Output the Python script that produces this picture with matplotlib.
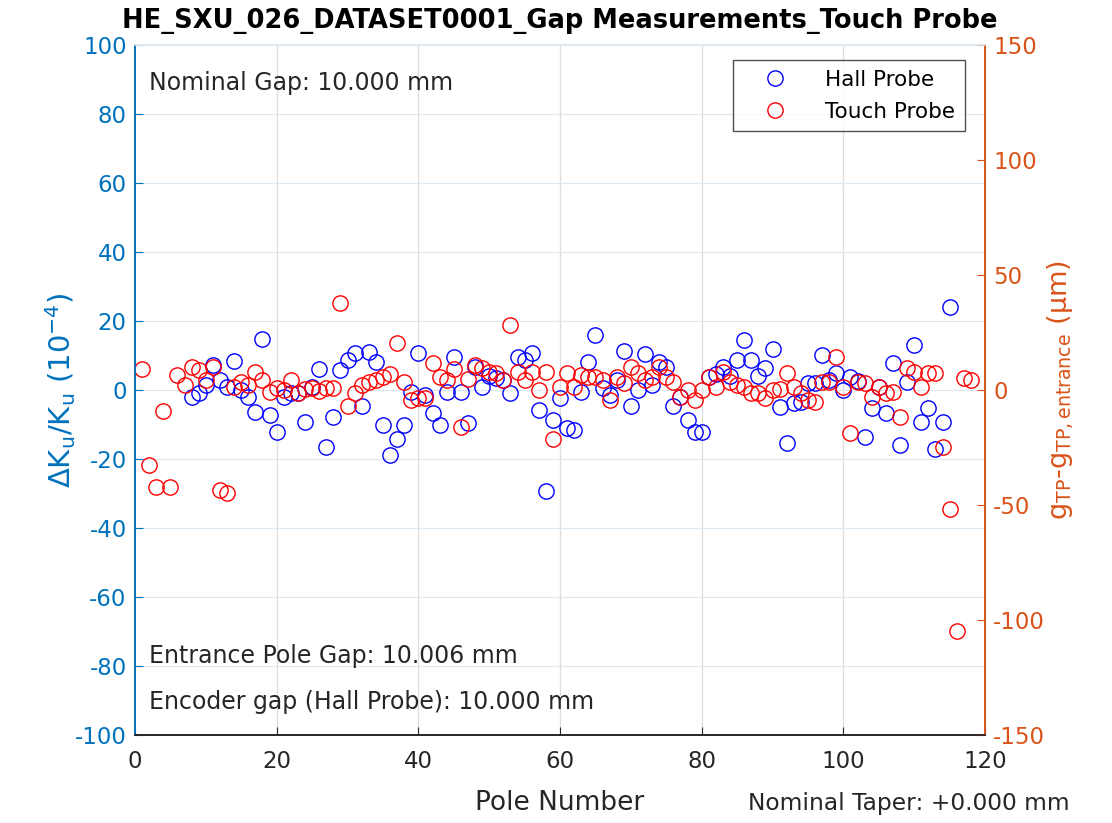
import matplotlib.pyplot as plt
import numpy as np

plt.rcParams['font.family'] = ['DejaVu Sans']
plt.rcParams['axes.unicode_minus'] = False
plt.rcParams['mathtext.fontset'] = 'dejavusans'

# Hall probe: delta K / K (1e-4) per pole, poles 8..115
hall_poles = list(range(8, 116))
hall_dk = [-2.1, -1.0, 1.5, 7.2, 2.9, 1.0, 8.4, 0.0, -1.9, -6.3,
           14.7, -7.2, -12.1, -1.9, -1.0, -1.0, -9.2, 1.0, 6.0, -16.4,
           -7.7, 5.8, 8.7, 10.6, -4.6, 11.1, 8.2, -10.1, -18.8, -14.3,
           -10.1, -0.5, 10.8, -1.4, -6.8, -10.1, -0.5, 9.7, -0.5, -9.7,
           6.8, 1.0, 4.0, 3.4, 2.9, -1.0, 9.7, 8.7, 10.8, -5.8,
           -29.3, -8.7, -2.4, -11.1, -11.6, -0.5, 8.2, 15.9, 0.5, -1.4,
           3.0, 11.3, -4.6, 0.0, 10.4, 1.5, 8.2, 6.8, -4.6, -1.9,
           -8.7, -12.1, -12.1, 3.9, 4.5, 6.8, 4.0, 8.7, 14.5, 8.7,
           4.0, 6.3, 11.8, -4.8, -15.5, -3.9, -3.4, 1.9, 1.9, 10.1,
           3.0, 4.8, 0.0, 3.9, 2.5, -13.5, -5.3, 1.0, -6.8, 7.7,
           -15.9, 2.4, 13.0, -9.2, -5.3, -17.2, -9.2, 24.1]

# Touch probe: gap relative to entrance pole (um), poles 1..118
touch_poles = list(range(1, 119))
touch_dg = [9.0, -32.7, -42.3, -9.1, -42.3, 6.5, 2.2, 10.1, 8.7, 4.3,
            9.9, -43.5, -44.9, 1.4, 3.6, 2.2, 8.0, 4.3, -0.7, 0.7,
            0.2, 4.3, -1.3, 0.5, 0.7, -0.5, 0.7, 1.0, 38.0, -7.0,
            -1.4, 2.2, 3.6, 4.3, 5.8, 7.0, 20.6, 3.6, -4.3, -3.6,
            -3.6, 11.6, 5.8, 4.3, 9.0, -16.0, 5.0, 10.9, 9.4, 8.0,
            7.2, 4.3, 28.3, 8.0, 4.3, 8.0, 0.0, 8.0, -21.5, 1.4,
            7.2, 1.4, 6.5, 5.8, 5.8, 4.3, -4.3, 5.8, 2.9, 10.1,
            7.2, 4.3, 5.8, 10.1, 5.8, 3.6, -2.9, 0.0, -4.3, 0.0,
            5.8, 1.4, 8.0, 3.6, 2.2, 1.4, -1.4, -1.4, -3.6, 0.0,
            0.5, 7.5, 1.4, -1.4, -4.3, -5.1, 3.6, 3.6, 14.2, 1.4,
            -18.8, 3.6, 2.9, -2.9, 1.4, -1.4, -0.7, -11.9, 9.4, 8.0,
            1.4, 7.2, 7.5, -24.6, -51.9, -104.8, 5.1, 4.3]

blue_ax = '#0072BD'
orange_ax = '#D95319'
dark = '#262626'

fig = plt.figure(figsize=(11.12, 8.23), dpi=100)
ax = fig.add_axes([0.1214, 0.1069, 0.7644, 0.8384])
ax2 = ax.twinx()

h1, = ax.plot(hall_poles, hall_dk, 'o', mfc='none', mec='b', ms=11, mew=1.0,
              label='Hall Probe')
h2, = ax2.plot(touch_poles, touch_dg, 'o', mfc='none', mec='r', ms=11, mew=1.0,
               label='Touch Probe')

ax.set_xlim(0, 120)
ax.set_ylim(-100, 100)
ax2.set_ylim(-150, 150)
ax.set_xticks(np.arange(0, 121, 20))
ax.set_yticks(np.arange(-100, 101, 20))
ax2.set_yticks(np.arange(-150, 151, 50))

# grid in matlab style
for t in np.arange(20, 120, 20):
    ax.axvline(t, color='#dedede', lw=0.9, zorder=0)
for t in np.arange(-80, 100, 20):
    ax.axhline(t, color='#dde8f1', lw=0.9, zorder=0)

ax.tick_params(axis='x', direction='in', labelsize=16.5, colors=dark,
               length=6, pad=11)
ax.tick_params(axis='y', direction='in', labelsize=16.5, colors=blue_ax,
               length=6, pad=6)
ax2.tick_params(axis='y', direction='in', labelsize=16.5, colors=orange_ax,
                length=6, pad=6)
ax2.tick_params(axis='x', top=False)

ax.spines['left'].set_color(blue_ax)
ax2.spines['left'].set_color(blue_ax)
ax2.spines['right'].set_color(orange_ax)
ax.spines['right'].set_color(orange_ax)
ax.spines['bottom'].set_color(dark)
ax2.spines['bottom'].set_color(dark)
ax.spines['top'].set_color('#dde8f1')
ax2.spines['top'].set_color('#dde8f1')
for a in (ax, ax2):
    for s in a.spines.values():
        s.set_linewidth(1.2)

ax.set_xlabel('Pole Number', fontsize=19, color=dark, labelpad=12)
ax.set_ylabel(r'$\Delta$K$_\mathregular{u}$/K$_\mathregular{u}$ (10$^\mathregular{-4}$)',
              fontsize=21, color=blue_ax, labelpad=-2)
ax2.set_ylabel(r'g$_\mathregular{TP}$-g$_\mathregular{TP,entrance}$ ($\mathregular{\mu}$m)',
               fontsize=19.5, color=orange_ax, labelpad=0)
ax.set_title('HE_SXU_026_DATASET0001_Gap Measurements_Touch Probe',
             fontsize=18.5, fontweight='bold', pad=12)

ax.text(2, 89, 'Nominal Gap: 10.000 mm', fontsize=17, color=dark,
        va='center')
ax.text(2, -77, 'Entrance Pole Gap: 10.006 mm', fontsize=17, color=dark,
        va='center')
ax.text(2, -90.5, 'Encoder gap (Hall Probe): 10.000 mm', fontsize=17,
        color=dark, va='center')
fig.text(0.962, 0.024, 'Nominal Taper: +0.000 mm', fontsize=16.8,
         color=dark, ha='right', va='center')

leg = ax2.legend(handles=[h1, h2], loc='upper right', fontsize=15.5,
                 bbox_to_anchor=(0.976, 0.978), borderaxespad=0,
                 frameon=True, fancybox=False,
                 handletextpad=0.8, borderpad=0.45, labelspacing=0.55,
                 handlelength=3.0)
leg.get_frame().set_edgecolor(dark)
leg.get_frame().set_linewidth(1.0)

fig.savefig('out.png', dpi=100)
